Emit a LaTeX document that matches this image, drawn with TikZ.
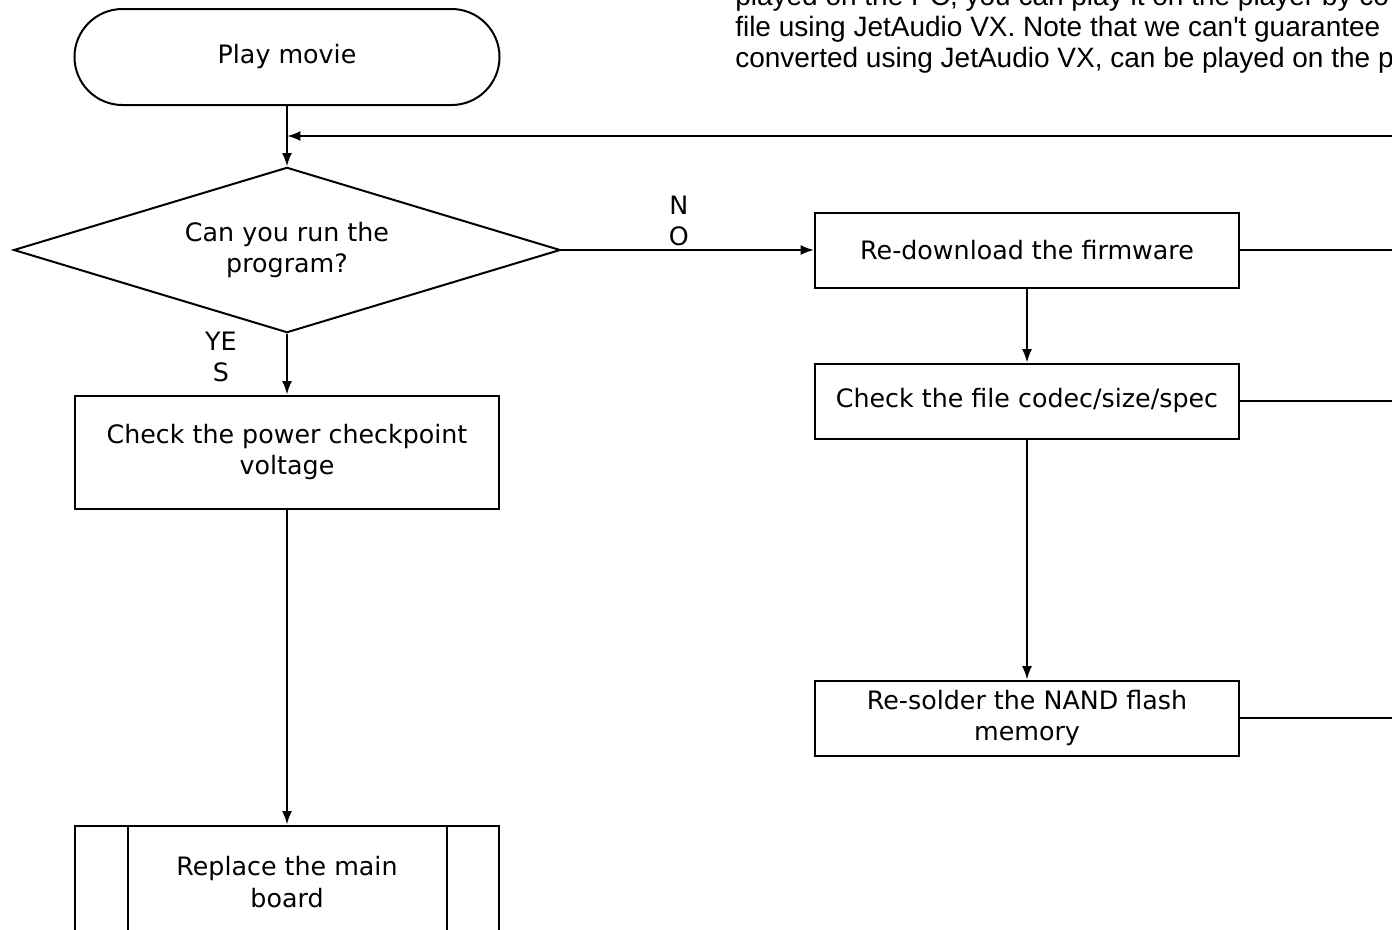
\documentclass[tikz,border=0pt]{standalone}
\usepackage{fontspec}
\setmainfont{DejaVu Sans}
\newfontfamily\notefont{Liberation Sans}
\usetikzlibrary{positioning, shapes.geometric, arrows.meta}

\begin{document}
\begin{tikzpicture}[x=0.75pt, y=-0.75pt,
        every node/.style={font=\fontsize{19}{23.5}\selectfont},
        >={Latex[length=10pt, width=7.5pt]},
        line/.style={line width=1.5pt},
        terminal/.style={draw, line width=1.5pt, rounded corners=36pt, minimum width=318.75pt, minimum height=72pt},
        process/.style={draw, line width=1.5pt, minimum width=318pt, minimum height=56.25pt, align=center},
        decision/.style={draw, diamond, line width=1.5pt, minimum width=410pt, minimum height=124pt, aspect=3.3, inner sep=0pt, align=center},
        note/.style={anchor=base west, inner sep=0pt, font=\notefont\fontsize{21}{23.25}\selectfont}]
        \useasboundingbox (0,0) rectangle (1392,929);
        \clip (0,0) rectangle (1392,929);
        % note text, cut by the page edge
        \node[note] (note1) at (735,5)  {played on the PC, you can play it on the player by co};
        \node[note] (note2) at (735,36) {file using JetAudio VX. Note that we can't guarantee};
        \node[note] (note3) at (735,67) {converted using JetAudio VX, can be played on the p};
        % main column
        \node[terminal] (play) at (287,57) {Play movie};
        \node[decision] (run) at (287,250) {Can you run the\\program?};
        \node[process, minimum height=84.75pt] (power) at (287,452) {Check the power checkpoint\\voltage};
        \node[process, minimum height=84.75pt] (board) at (287,882) {Replace the main\\board};
        \draw[line] ([xshift=40.5pt]board.north west) -- ([xshift=40.5pt]board.south west);
        \draw[line] ([xshift=-40pt]board.north east) -- ([xshift=-40pt]board.south east);
        % NO branch
        \node[process] (firmware) at (1027,250) {Re-download the firmware};
        \node[process] (codec) at (1027,401) {Check the file codec/size/spec};
        \node[process] (nand) at (1027,718) {Re-solder the NAND flash\\memory};
        \coordinate (loop) at (287,136);
        \coordinate (back) at (1400,136);
        \draw[line, ->] (play) -- (run);
        \draw[line, ->] (back) -- (loop);
        \draw[line, ->] (run) -- node[pos=0.465, above=2pt, inner sep=0pt, align=center] {N\\O} (firmware);
        \draw[line, ->] (run) -- node[pos=0.38, left=37pt, inner sep=0pt, align=center] {YE\\S} (power);
        \draw[line, ->] (firmware) -- (codec);
        \draw[line, ->] (codec) -- (nand);
        \draw[line, ->] (power) -- (board);
        \foreach \n in {firmware, codec, nand}
            \draw[line width=1pt] (\n.east) -- ++(200,0);
    \end{tikzpicture}
\end{document}
